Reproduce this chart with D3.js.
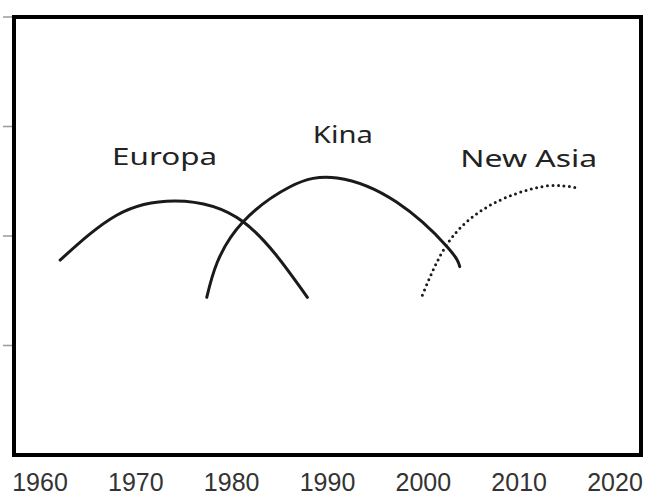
<!DOCTYPE html>
<html>
<head>
<meta charset="utf-8">
<script src="https://cdn.jsdelivr.net/npm/d3@7"></script>
<style>
  body { margin: 0; background: #fff; }
</style>
</head>
<body>
<svg id="chart" width="648" height="496"></svg>
<script>
// Data: [year, level]
const years = [1960, 1970, 1980, 1990, 2000, 2010, 2020];
const levelTicks = [1, 2, 3, 4];

const europa = [
  [1962.1, 1.78], [1968.0, 2.19], [1974.1, 2.32], [1981.2, 2.13], [1987.9, 1.44]
];
const kina = [
  [1977.4, 1.44], [1978.5, 1.76], [1981.2, 2.13], [1986.1, 2.45], [1991.0, 2.53],
  [1997.2, 2.31], [2002.5, 1.90], [2003.8, 1.72]
];
const newAsia = [
  [1999.9, 1.46], [2002.6, 1.94], [2006.2, 2.24], [2009.8, 2.39], [2013.2, 2.46],
  [2016.0, 2.44]
];

const series = [
  {name: "Europa", points: europa, dotted: false, label: [1973.0, 2.65], width: 105},
  {name: "Kina", points: kina, dotted: false, label: [1991.6, 2.85], width: 60},
  {name: "New Asia", points: newAsia, dotted: true, label: [2011.0, 2.63], width: 137}
];

const svg = d3.select("#chart");

// Scales
const x = d3.scaleLinear().domain([1960, 2020]).range([40, 615]);
const y = d3.scaleLinear().domain([0, 4]).range([455, 17]);

// Left ticks (no labels)
svg.append("g")
  .selectAll("line")
  .data(levelTicks)
  .join("line")
  .attr("x1", 3)
  .attr("x2", 13)
  .attr("y1", d => y(d))
  .attr("y2", d => y(d))
  .attr("stroke", "#9a9a9a")
  .attr("stroke-width", 1.5);

// Frame
svg.append("rect")
  .attr("x", 14)
  .attr("y", y(4))
  .attr("width", 641 - 14)
  .attr("height", y(0) - y(4))
  .attr("fill", "none")
  .attr("stroke", "#000")
  .attr("stroke-width", 4);

// Year labels
svg.append("g")
  .selectAll("text")
  .data(years)
  .join("text")
  .attr("x", d => x(d))
  .attr("y", 491)
  .attr("text-anchor", "middle")
  .attr("font-family", "Liberation Sans, Arial, sans-serif")
  .attr("font-size", "25px")
  .attr("fill", "#333")
  .text(d => d);

// Arcs
const line = d3.line()
  .x(d => x(d[0]))
  .y(d => y(d[1]))
  .curve(d3.curveNatural);

svg.append("g")
  .selectAll("path")
  .data(series)
  .join("path")
  .attr("d", d => line(d.points))
  .attr("fill", "none")
  .attr("stroke", "#1a1a1a")
  .attr("stroke-width", 3)
  .attr("stroke-linecap", "round")
  .attr("stroke-dasharray", d => d.dotted ? "0 5.5" : null);

// Series names
svg.append("g")
  .selectAll("text")
  .data(series)
  .join("text")
  .attr("x", d => x(d.label[0]))
  .attr("y", d => y(d.label[1]))
  .attr("text-anchor", "middle")
  .attr("font-family", "Noto Sans, Open Sans, sans-serif")
  .attr("font-size", "24px")
  .attr("fill", "#222")
  .attr("textLength", d => d.width)
  .attr("lengthAdjust", "spacingAndGlyphs")
  .text(d => d.name);
</script>
</body>
</html>
